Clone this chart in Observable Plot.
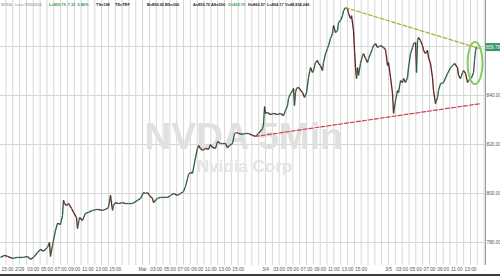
<!DOCTYPE html>
<html><head><meta charset="utf-8">
<script src="https://cdn.jsdelivr.net/npm/d3@7"></script>
<script src="https://cdn.jsdelivr.net/npm/@observablehq/plot@0.6"></script>
<style>
html,body{margin:0;padding:0;background:#fff;}
#wrap{position:relative;width:500px;height:276px;overflow:hidden;font-family:"Liberation Sans",Arial,sans-serif;}
#hdr span{position:absolute;top:1.5px;font-size:3.9px;font-weight:bold;color:#222;white-space:nowrap;}
#bar{position:absolute;left:0;bottom:0;width:500px;height:2px;background:#3c3c3c;}
</style></head>
<body><div id="wrap"><div id="chart"></div>
<div id="hdr">
<span style="left:1px;color:#aaa">NVDA - Last 3/05/2024</span>
<span style="left:49px;color:#2e9a4a">L=859.79 &nbsp;7.33 &nbsp;0.86%</span>
<span style="left:96px">TS=198</span>
<span style="left:115px">TE=TRF</span>
<span style="left:147px">B=859.65 BS=300</span>
<span style="left:193px">A=859.75 AS=500</span>
<span style="left:228px;color:#2e9a4a">O=852.70</span>
<span style="left:248px">H=860.57</span>
<span style="left:267px">L=834.17</span>
<span style="left:285px">V=48,834,246</span>
</div><div id="bar"></div></div>
<script>
// session hours: each trading day = 18 hours, day d starts (01:00) at t = d*18
const days = ["2/28", "2/29", "Mar", "3/4", "3/5"];
const hourLabels = ["03:00", "05:00", "07:00", "09:00", "11:00", "13:00", "15:00"];
const priceTicks = [780, 800, 820, 840, 860];
const times = [15.20,15.79,16.22,16.96,17.69,18.57,19.15,19.59,20.03,20.62,21.06,21.50,22.08,22.37,22.52,22.81,23.25,23.54,23.98,24.28,24.42,24.57,24.86,25.16,25.59,25.89,26.33,26.47,26.77,27.20,27.64,28.08,28.67,29.40,30.13,30.57,31.01,31.30,31.60,31.74,32.04,32.47,33.06,33.50,33.94,34.53,35.26,35.70,36.14,36.43,36.72,37.01,37.45,37.60,38.18,38.62,39.06,39.65,40.09,40.53,41.11,41.55,41.99,42.28,42.58,42.72,43.02,43.31,43.75,44.04,44.19,44.48,44.77,45.21,45.65,45.94,46.24,46.68,46.97,47.41,47.70,48.14,48.43,48.73,49.16,49.46,49.75,50.04,50.63,51.07,51.51,52.09,52.53,52.97,53.56,53.70,53.85,53.99,54.29,54.73,55.17,55.75,56.19,56.63,56.92,57.22,57.36,57.66,57.95,58.10,58.24,58.39,58.53,58.83,59.41,59.71,60.00,60.29,60.58,60.88,61.02,61.32,61.61,61.76,62.05,62.34,62.49,62.78,63.07,63.22,63.51,63.80,63.95,64.24,64.54,64.68,64.98,65.27,65.42,65.71,66.00,66.15,66.44,66.59,66.88,67.03,67.17,67.32,67.47,67.61,67.90,68.20,68.34,68.64,68.93,69.08,69.37,69.66,69.81,70.10,70.39,70.83,71.27,71.56,71.86,72.00,72.30,72.59,72.74,73.03,73.32,73.47,73.76,74.05,74.20,74.49,74.78,74.93,75.22,75.52,75.66,75.96,76.10,76.25,76.40,76.69,76.98,77.13,77.42,77.71,77.86,78.15,78.44,78.59,78.88,79.18,79.32,79.62,80.06,80.64,81.08,81.37,81.67,82.10,82.25,82.54,82.84,82.98,83.28,83.57,83.72,84.15,84.45,84.59,84.74,84.89];
const prices = [773.9,774.7,774.3,773.5,773.9,773.9,774.3,773.1,773.9,775.9,777.2,776.4,778.0,780.0,774.3,778.8,784.9,787.8,787.4,791.0,797.2,795.9,795.1,795.9,793.9,792.3,790.2,785.7,790.2,789.0,791.9,792.3,793.1,793.5,793.1,793.5,794.3,799.2,793.1,795.1,796.3,795.9,796.3,795.9,795.9,795.9,797.2,798.0,800.4,800.0,800.4,799.2,798.0,796.3,798.0,798.4,798.4,798.4,799.2,800.0,799.2,800.0,800.8,802.9,806.1,807.8,808.6,808.2,814.7,818.4,819.6,818.4,817.6,818.4,818.0,820.0,818.8,818.4,821.2,820.4,820.4,820.4,818.8,819.6,820.4,824.5,824.9,824.5,824.1,824.5,824.5,823.7,823.3,824.5,826.5,827.8,835.5,832.7,833.1,832.2,832.7,832.2,832.7,831.8,833.9,835.9,838.8,840.8,842.0,842.9,835.9,841.2,842.9,843.3,841.2,839.2,841.2,847.3,851.4,849.4,850.2,853.5,854.3,853.1,852.2,850.2,853.5,857.1,859.2,860.4,863.3,865.3,868.6,865.7,866.5,869.8,870.6,872.6,874.7,875.9,875.5,873.5,871.4,872.6,866.5,858.4,851.4,846.9,851.4,848.2,853.1,856.3,857.1,855.1,853.5,855.1,857.1,859.2,860.4,861.2,859.6,860.4,859.6,858.8,852.2,853.5,847.3,840.8,832.7,838.0,842.0,841.2,846.1,845.3,846.9,845.3,847.3,851.4,857.1,859.6,861.2,861.6,849.4,862.4,863.7,862.4,860.4,858.4,857.1,858.4,855.5,853.1,847.3,842.0,836.7,839.2,842.0,844.9,845.3,849.0,851.4,852.2,853.1,851.4,848.2,846.9,849.4,850.2,849.0,845.3,846.1,847.3,849.4,854.3,858.4,859.79];
const resistance = [{t: 65.71, p: 875.9}, {t: 85.3, p: 859.2}];
const support = [{t: 52.53, p: 823.3}, {t: 85.47, p: 836.7}];
const highlight = [{t: 84.67, p: 853.3}];
const lastPrice = 859.79;
const xDomain = [15.2, 86.2];
const yDomain = [770.6, 878.8];

const series = times.map((t, i) => ({t, p: prices[i]}));
const segs = series.slice(1).map((d, i) => ({t1: series[i].t, p1: series[i].p, t2: d.t, p2: d.p, up: d.p >= series[i].p}));

const ticks = [];
const labelOf = new Map();
days.forEach((day, d) => {
  if (d === 0) return;
  ticks.push(d * 18); labelOf.set(d * 18, day);
  hourLabels.forEach(h => {
    const t = d * 18 + (+h.slice(0, 2)) - 1;
    if (t < xDomain[1] - 2) { ticks.push(t); labelOf.set(t, h); }
  });
});

const k = 0.5523;
const ellipseSymbol = {draw(ctx) {
  const rx = 7.5, ry = 21;
  ctx.moveTo(rx, 0);
  ctx.bezierCurveTo(rx, ry * k, rx * k, ry, 0, ry);
  ctx.bezierCurveTo(-rx * k, ry, -rx, ry * k, -rx, 0);
  ctx.bezierCurveTo(-rx, -ry * k, -rx * k, -ry, 0, -ry);
  ctx.bezierCurveTo(rx * k, -ry, rx, -ry * k, rx, 0);
  ctx.closePath();
}};
const tagSymbol = {draw(ctx) { ctx.rect(-7.5, -4, 15, 8); }};

const chart = Plot.plot({
  width: 500, height: 276,
  marginLeft: 0, marginRight: 15, marginTop: 0, marginBottom: 11,
  x: {domain: xDomain, axis: null},
  y: {domain: yDomain, axis: null},
  style: {background: "white", fontFamily: "Liberation Sans, Arial, sans-serif"},
  marks: [
    Plot.ruleX(d3.range(Math.ceil(xDomain[0]), Math.floor(xDomain[1]) + 1), {stroke: "#d6d6d6", strokeWidth: 1}),
    Plot.ruleY(priceTicks, {stroke: "#d6d6d6", strokeWidth: 1}),
    Plot.text(["NVDA 5Min"], {text: d => d, frameAnchor: "top-left", dx: 243, dy: 122, fontSize: 37, fontWeight: "bold", fill: "#e0e0e0", textAnchor: "middle"}),
    Plot.text(["Nvidia Corp"], {text: d => d, frameAnchor: "top-left", dx: 244, dy: 159, fontSize: 17, fontWeight: "bold", fill: "#e4e4e4", textAnchor: "middle"}),
    Plot.link(segs, {x1: "t1", y1: "p1", x2: "t2", y2: "p2", stroke: d => d.up ? "#285f3f" : "#5e1f1f", strokeWidth: 1.3}),
    Plot.line(resistance, {x: "t", y: "p", stroke: "#adb03a", strokeWidth: 1.2, strokeDasharray: "4,2"}),
    Plot.line(support, {x: "t", y: "p", stroke: "#d0404f", strokeWidth: 1.2, strokeDasharray: "4,2"}),
    Plot.dot(highlight, {x: "t", y: "p", symbol: ellipseSymbol, stroke: "#86cc66", strokeWidth: 2, fill: "none"}),
    Plot.ruleX([xDomain[1]], {stroke: "#9a9a9a"}),
    Plot.axisY(priceTicks, {anchor: "right", tickSize: 0, tickPadding: 1, tickFormat: d => d.toFixed(2), fontSize: 4.8, fill: "#555"}),
    Plot.axisX(ticks, {anchor: "bottom", tickSize: 0, tickPadding: 2, tickFormat: t => labelOf.get(t), fontSize: 4.8, fill: "#555"}),
    Plot.axisX([xDomain[0]], {anchor: "bottom", tickSize: 0, tickPadding: 2, tickFormat: () => hourLabels[6], textAnchor: "start", dx: 1, fontSize: 4.8, fill: "#555"}),
    Plot.dot([lastPrice], {x: () => xDomain[1], y: d => d, dx: 7.5, symbol: tagSymbol, fill: "#3a9560", stroke: "none"}),
    Plot.text([lastPrice], {x: () => xDomain[1], y: d => d, dx: 7.5, text: d => d.toFixed(2), fill: "white", fontSize: 4.6})
  ]
});
document.getElementById("chart").appendChild(chart);
</script></body></html>
